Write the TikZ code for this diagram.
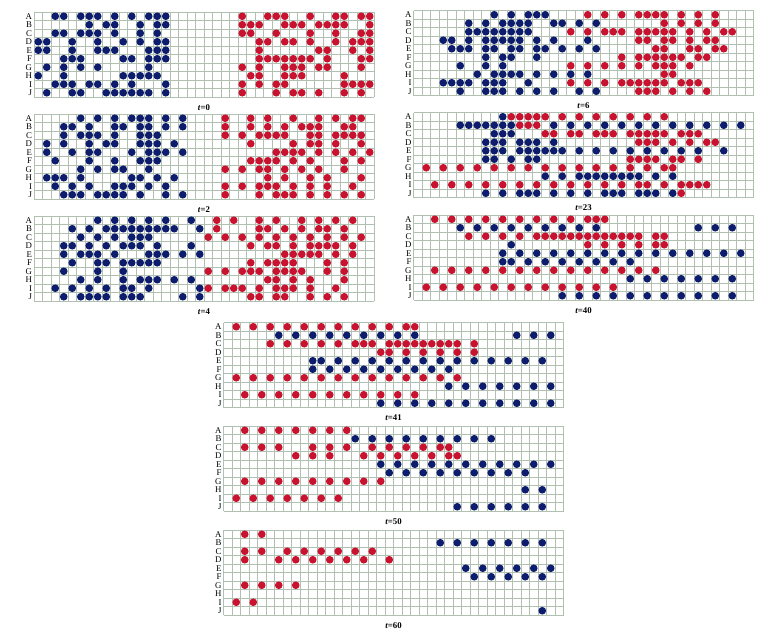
\documentclass[tikz,border=0pt]{standalone}
\usepackage{fontspec}
\setmainfont{Liberation Serif}
\definecolor{navy}{RGB}{14,28,110}
\definecolor{crim}{RGB}{200,18,48}
\definecolor{gridgrey}{RGB}{178,192,178}
\tikzset{gridline/.style={gridgrey,line width=0.45pt},
  rowlbl/.style={anchor=east,inner sep=0pt,font=\fontsize{7.5}{7.5}\selectfont},
  steplbl/.style={inner sep=0pt,font=\fontsize{7.5}{8}\selectfont\bfseries},
  navydot/.style={fill=navy},reddot/.style={fill=crim}}
\newcommand{\panelgrid}[2]{%
  \foreach \gx in {0,...,40} \draw[gridline] (\gx,0)--(\gx,10);
  \foreach \gy in {0,...,10} \draw[gridline] (0,\gy)--(40,\gy);
  \foreach \lt [count=\rw from 0] in {A,B,C,D,E,F,G,H,I,J} \node[rowlbl] at (-0.2,\rw+0.5) {\lt};
  \node[steplbl] (#1) at (20,11.2) {\textit{t}=#2};}
\newcommand{\navyrow}[2]{\foreach \col in {#2} \fill[navydot] (\col+0.5,#1+0.5) circle[radius=1.15mm];}
\newcommand{\redrow}[2]{\foreach \col in {#2} \fill[reddot] (\col+0.5,#1+0.5) circle[radius=1.15mm];}

\begin{document}
\begin{tikzpicture}[x=2.55mm,y=-2.55mm]
\useasboundingbox (0,0) rectangle ({769/8.5},{637/8.5});
% t=0
\begin{scope}[shift={({34/8.5},{12/8.5})}]
\panelgrid{t0}{0}
\navyrow{0}{2,3,5,6,7,9,11,13,14,15}\navyrow{1}{6,8,9,12,14,15}\navyrow{2}{2,3,5,6,7,9,12,14}
\navyrow{3}{0,1,4,7,10,12,14,15}\navyrow{4}{0,1,4,7,8,9,13,14,15}\navyrow{5}{3,4,5,10,11,13,14,15}
\navyrow{6}{1,3,5,7,13}\navyrow{7}{0,3,10,11,12,13,14}\navyrow{8}{2,3,4,6,7,9,11,15}\navyrow{9}{1,4,5,8,9,10,11,12,13,15}
\redrow{0}{24,27,28,29,32,35,36,38,39}\redrow{1}{24,25,26,29,30,31,33,34,35,36,39}\redrow{2}{24,25,28,32,35,38,39}
\redrow{3}{26,27,29,30,32,35,37,38,39}\redrow{4}{26,33,34,37,39}\redrow{5}{26,27,28,29,30,31,32,34,38,39}
\redrow{6}{24,26,29,30,31,33,34,38}\redrow{7}{25,26,29,30,31,36}\redrow{8}{24,26,28,29,36,37,38,39}\redrow{9}{24,28,30,31,33,36,38}
\end{scope}
% t=2
\begin{scope}[shift={({34/8.5},{114/8.5})}]
\panelgrid{t2}{2}
\navyrow{0}{5,7,9,11,12,13,15,17}\navyrow{1}{3,4,6,9,10,12,13,15,17}\navyrow{2}{3,5,6,7,9,12,13,14}
\navyrow{3}{1,3,6,8,9,12,13,14,16}\navyrow{4}{1,4,6,7,11,13,14,15,17}\navyrow{5}{2,6,9,12,13,14}
\navyrow{6}{5,7,9,10,13}\navyrow{7}{1,2,3,5,11,12,14,16}\navyrow{8}{2,4,6,9,10,11,13,15}\navyrow{9}{3,4,5,7,8,9,10,12,15,17}
\redrow{0}{22,25,27,30,33,35,37,38}\redrow{1}{22,25,27,29,31,32,33,36,37}\redrow{2}{22,24,26,27,28,29,32,33,35,36,37,38}
\redrow{3}{25,30,32,33,35,38}\redrow{4}{28,29,30,31,33,35,37,39}\redrow{5}{25,26,27,28,30,32,36,38}
\redrow{6}{22,24,26,27,29,31,33,36}\redrow{7}{27,29,32,34,38}\redrow{8}{22,24,26,27,28,30,32,34,37}\redrow{9}{22,26,28,29,30,32,34,36,38}
\end{scope}
% t=4
\begin{scope}[shift={({34/8.5},{216/8.5})}]
\panelgrid{t4}{4}
\navyrow{0}{7,9,11,13,15,18}\navyrow{1}{4,6,8,9,10,11,12,13,14,15,16,19}\navyrow{2}{5,7,9,11,12,13}
\navyrow{3}{3,4,6,8,10,11,12,14,18}\navyrow{4}{3,5,6,7,9,13,14,15,17,19}\navyrow{5}{4,7,8,10,11,12,13,14}
\navyrow{6}{3,7,10}\navyrow{7}{5,7,10,12,13,14,16,18}\navyrow{8}{2,4,6,8,10,11,13,19}\navyrow{9}{3,5,6,7,8,10,11,12,17,19}
\redrow{0}{21,23,26,28,31,33,35,37}\redrow{1}{21,26,27,29,31,33,34,36}\redrow{2}{20,22,24,26,28,30,32,34,36,38}
\redrow{3}{25,27,28,30,32,33,34,35,37}\redrow{4}{29,30,31,32,33,35,37}\redrow{5}{25,27,28,29,30,34,36}
\redrow{6}{20,22,24,25,26,28,29,30,31,34,36}\redrow{7}{27,28,30,32,36}\redrow{8}{20,22,23,24,26,28,29,30,32,35}\redrow{9}{25,26,28,29,32,34,36}
\end{scope}
% t=6
\begin{scope}[shift={({413.5/8.5},{10.5/8.5})}]
\panelgrid{t6}{6}
\navyrow{0}{9,11,13,14,15}\navyrow{1}{6,8,10,11,12,13,16,17,19,21}\navyrow{2}{6,7,8,9,10,11,12,13}
\navyrow{3}{3,4,6,8,9,10,11,12,14,16,20}\navyrow{4}{4,5,6,8,9,11,12,14,15,17,19,21}\navyrow{5}{8,10,11,14}
\navyrow{6}{5,8,10}\navyrow{7}{7,9,10,11,12,14,16,18,20}\navyrow{8}{3,4,5,6,8,9,10,13}\navyrow{9}{5,8,9,10,12,14,16,19,21}
\redrow{0}{20,22,24,26,27,28,29,31,33,35}\redrow{1}{29,31,33,35}\redrow{2}{18,20,22,23,24,26,27,28,29,30,32,34,36,37}
\redrow{3}{26,27,29,30,32,34,35}\redrow{4}{28,29,32,33,35,36}\redrow{5}{24,26,27,28,29,30,31,33,34}
\redrow{6}{18,20,22,24,26,28,29,30,32}\redrow{7}{29,30}\redrow{8}{18,20,22,24,25,26,27,28,29,31,32,33}\redrow{9}{26,27,28,30,32,34}
\end{scope}
% t=23
\begin{scope}[shift={({413.5/8.5},{112.5/8.5})}]
\panelgrid{t23}{23}
\navyrow{0}{10}\navyrow{1}{5,6,7,8,9,10,11,16,18,20,22,24,26,28,30,32,34,36,38}\navyrow{2}{9,10,11}
\navyrow{3}{8,9,10,12,13,14,16}\navyrow{4}{8,9,10,12,13,14,15,16,17,19,21,23,25,27,29,31,33,36}\navyrow{5}{8,9,11,13,14}
\navyrow{7}{15,17,19,20,21,22,23,24,25,26,28,30}\navyrow{9}{8,10,12,13,14,16,18,20,22,23,24,26,27,28,30}
\redrow{0}{11,12,13,14,15,17,19,21,23,25,27,29}\redrow{1}{12,13,14}\redrow{2}{15,16,18,19,21,22,23,25,26,27,28,29,31,32,33}
\redrow{3}{26,27,28,30,32,34,35}\redrow{5}{25,26,27,28,30,31,33}\redrow{6}{1,3,5,7,9,11,13,15,17,19,21,23,25,27,29,30}
\redrow{8}{2,4,6,8,10,12,14,16,18,20,22,24,26,27,29,31,32,33,34}\redrow{9}{31}
\end{scope}
% t=40
\begin{scope}[shift={({413.5/8.5},{215/8.5})}]
\panelgrid{t40}{40}
\navyrow{1}{5,7,9,11,13,15,17,19,21,33,35,37}\navyrow{3}{11}\navyrow{4}{10,12,14,16,18,20,22,24,26,28,30,32,34,36,38}
\navyrow{5}{10,11,13,15,17,19,21,23,25}\navyrow{7}{25,27,29,31,33,35,37}\navyrow{9}{17,19,21,23,25,27,29,31,33,35,37}
\redrow{0}{2,4,6,8,10,12,14,16,18,20,21,22}\redrow{2}{6,8,10,12,14,15,16,17,18,19,20,21,22,23,24,25,26,28,29}
\redrow{3}{20,22,24,26,28,29}\redrow{6}{2,4,6,8,10,12,14,16,18,20,22,24,26,28}\redrow{8}{1,3,5,7,9,11,13,15,17,19,21,23}
\end{scope}
% t=41
\begin{scope}[shift={({223.5/8.5},{322.5/8.5})}]
\panelgrid{t41}{41}
\navyrow{1}{6,8,10,12,14,16,18,20,22,34,36,38}\navyrow{4}{10,11,13,15,17,19,21,23,25,27,29,31,33,35,37}
\navyrow{5}{10,12,14,16,18,20,22,24,26}\navyrow{7}{26,28,30,32,34,36,38}\navyrow{9}{18,20,22,24,26,28,30,32,34,36,38}
\redrow{0}{1,3,5,7,9,11,13,15,17,19,21,22}\redrow{2}{5,7,9,11,13,15,16,17,19,20,21,22,23,24,25,26,27,29}
\redrow{3}{18,19,21,23,25,27,29}\redrow{6}{1,3,5,7,9,11,13,15,17,19,21,23,25,27}\redrow{8}{2,4,6,8,10,12,14,16,18,20,22}
\end{scope}
% t=50
\begin{scope}[shift={({223.5/8.5},{426/8.5})}]
\panelgrid{t50}{50}
\navyrow{1}{15,17,19,21,23,25,27,29,31}\navyrow{4}{18,20,22,24,26,28,30,32,34,36,38}\navyrow{5}{19,21,23,25,27,29,31,33,35}
\navyrow{7}{35,37}\navyrow{9}{27,29,31,33,35,37}
\redrow{0}{2,4,6,8,10,12,14}\redrow{2}{2,4,6,10,12,14,17,19,21,23,25,26}\redrow{3}{8,10,12,16,18,20,22,24,26,27}
\redrow{6}{2,4,6,8,10,12,14,16,18}\redrow{8}{1,3,5,7,9,11,13}
\end{scope}
% t=60
\begin{scope}[shift={({223.5/8.5},{530/8.5})}]
\panelgrid{t60}{60}
\navyrow{1}{25,27,29,31,33,35,37}\navyrow{4}{28,30,32,34,36,38}\navyrow{5}{29,31,33,35,37}\navyrow{9}{37}
\redrow{0}{2,4}\redrow{2}{2,4,7,9,11,13,15,17}\redrow{3}{2,6,8,10,12,14,16,19}\redrow{6}{2,4,6,8}\redrow{8}{1,3}
\end{scope}
\end{tikzpicture}
\end{document}
